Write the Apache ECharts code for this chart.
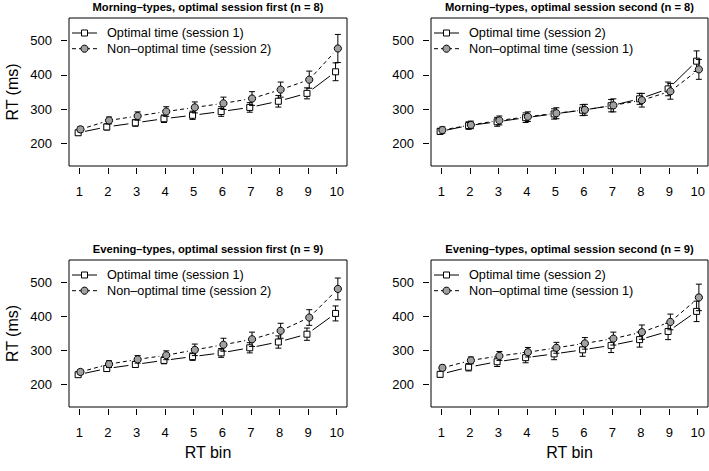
<!DOCTYPE html>
<html>
<head>
<meta charset="utf-8">
<script src="https://cdn.jsdelivr.net/npm/echarts@6/dist/echarts.min.js"></script>
<style>
html,body{margin:0;padding:0;background:#fff;}
#chart{width:709px;height:471px;}
</style>
</head>
<body>
<div id="chart"></div>
<script>
// ---- Data ----
const bins = [1, 2, 3, 4, 5, 6, 7, 8, 9, 10];
const yTicks = [200, 300, 400, 500];

const titles = [
  'Morning\u2013types, optimal session first (n = 8)',
  'Morning\u2013types, optimal session second (n = 8)',
  'Evening\u2013types, optimal session first (n = 9)',
  'Evening\u2013types, optimal session second (n = 9)'
];
const legendOptimal = ['Optimal time (session 1)', 'Optimal time (session 2)', 'Optimal time (session 1)', 'Optimal time (session 2)'];
const legendNonOptimal = ['Non\u2013optimal time (session 2)', 'Non\u2013optimal time (session 1)', 'Non\u2013optimal time (session 2)', 'Non\u2013optimal time (session 1)'];

// Morning-types, optimal session first
const optA    = [231, 248, 260, 272, 282, 293, 305, 323, 346, 409];
const optAErr = [7, 9, 10, 11, 12, 14, 14, 17, 16, 26];
const nonA    = [241, 267, 280, 293, 305, 317, 331, 357, 386, 477];
const nonAErr = [8, 10, 12, 14, 16, 18, 20, 22, 25, 41];
// Morning-types, optimal session second
const optB    = [235, 252, 263, 275, 286, 297, 310, 330, 359, 440];
const optBErr = [9, 11, 13, 14, 15, 16, 18, 16, 20, 30];
const nonB    = [239, 254, 267, 278, 288, 298, 311, 326, 352, 416];
const nonBErr = [9, 11, 13, 14, 16, 16, 19, 20, 23, 29];
// Evening-types, optimal session first
const optC    = [229, 247, 259, 271, 282, 293, 308, 325, 348, 409];
const optCErr = [6, 8, 9, 10, 11, 13, 15, 18, 18, 22];
const nonC    = [237, 260, 274, 286, 302, 317, 333, 358, 397, 481];
const nonCErr = [7, 10, 11, 13, 17, 19, 21, 22, 23, 32];
// Evening-types, optimal session second
const optD    = [230, 251, 267, 279, 290, 302, 315, 332, 356, 415];
const optDErr = [8, 11, 14, 15, 17, 19, 21, 22, 24, 30];
const nonD    = [249, 271, 284, 295, 308, 321, 335, 354, 384, 456];
const nonDErr = [8, 10, 13, 14, 16, 17, 19, 21, 23, 39];

const optSeries = [[optA, optAErr], [optB, optBErr], [optC, optCErr], [optD, optDErr]];
const nonSeries = [[nonA, nonAErr], [nonB, nonBErr], [nonC, nonCErr], [nonD, nonDErr]];

// ---- Layout / style ----
const FONT = 'Liberation Sans, Arial, Helvetica, sans-serif';
const grids = [
  {left: 69,  top: 18,  width: 278, height: 148},
  {left: 431, top: 18,  width: 277, height: 148},
  {left: 69,  top: 260, width: 278, height: 147},
  {left: 431, top: 260, width: 277, height: 147}
];
const GREY = '#a0a0a0';
const DODGE = 0.04;
const GAP = 7;

function buildData(vals, errs) {
  return bins.map((b, i) => [b, vals[i], errs[i],
    i < bins.length - 1 ? bins[i + 1] : null,
    i < bins.length - 1 ? vals[i + 1] : null]);
}

function makeRender(kind) {
  const dodge = kind === 'opt' ? -DODGE : DODGE;
  return function (params, api) {
    const x = api.value(0) + dodge;
    const y = api.value(1);
    const e = api.value(2);
    const p = api.coord([x, y]);
    const hi = api.coord([x, y + e]);
    const lo = api.coord([x, y - e]);
    const children = [];
    const nx = api.value(3);
    const ny = api.value(4);
    if (nx != null && !isNaN(nx)) {
      const q = api.coord([nx + dodge, ny]);
      const dx = q[0] - p[0], dy = q[1] - p[1];
      const L = Math.sqrt(dx * dx + dy * dy);
      if (L > 2 * GAP) {
        children.push({
          type: 'line',
          shape: {x1: p[0] + dx / L * GAP, y1: p[1] + dy / L * GAP, x2: q[0] - dx / L * GAP, y2: q[1] - dy / L * GAP},
          style: {stroke: '#000', lineWidth: 1, lineDash: kind === 'opt' ? null : [4, 3]}
        });
      }
    }
    const cap = 3;
    children.push({type: 'line', shape: {x1: p[0], y1: lo[1], x2: p[0], y2: hi[1]}, style: {stroke: '#000', lineWidth: 1}});
    children.push({type: 'line', shape: {x1: p[0] - cap, y1: hi[1], x2: p[0] + cap, y2: hi[1]}, style: {stroke: '#000', lineWidth: 1}});
    children.push({type: 'line', shape: {x1: p[0] - cap, y1: lo[1], x2: p[0] + cap, y2: lo[1]}, style: {stroke: '#000', lineWidth: 1}});
    if (kind === 'opt') {
      children.push({type: 'rect', shape: {x: p[0] - 3, y: p[1] - 3, width: 6, height: 6}, style: {fill: '#fff', stroke: '#000', lineWidth: 1}});
    } else {
      children.push({type: 'circle', shape: {cx: p[0], cy: p[1], r: 3.6}, style: {fill: GREY, stroke: '#000', lineWidth: 1}});
    }
    return {type: 'group', children: children};
  };
}

const xAxes = grids.map((g, i) => ({
  type: 'value', gridIndex: i, min: 0.64, max: 10.36, offset: 2,
  axisLine: {show: false},
  splitLine: {show: false},
  axisTick: {show: true, length: 6, customValues: bins, lineStyle: {color: '#000', width: 1}},
  axisLabel: {show: true, customValues: bins, margin: 17, fontSize: 13, color: '#000', fontFamily: FONT},
  name: i >= 2 ? 'RT bin' : '', nameLocation: 'middle', nameGap: 35,
  nameTextStyle: {fontSize: 16, color: '#000', fontFamily: FONT}
}));
const yAxes = grids.map((g, i) => ({
  type: 'value', gridIndex: i, min: 134, max: 566, offset: 2,
  axisLine: {show: false},
  splitLine: {show: false},
  axisTick: {show: true, length: 6, customValues: yTicks, lineStyle: {color: '#000', width: 1}},
  axisLabel: {show: true, customValues: yTicks, margin: 15, fontSize: 13, color: '#000', fontFamily: FONT},
  name: (i % 2 === 0) ? 'RT (ms)' : '', nameLocation: 'middle', nameGap: 47, nameRotate: 90,
  nameTextStyle: {fontSize: 16, color: '#000', fontFamily: FONT}
}));

const series = [];
grids.forEach((g, i) => {
  series.push({type: 'custom', name: legendOptimal[i], xAxisIndex: i, yAxisIndex: i,
    renderItem: makeRender('opt'), encode: {x: 0, y: 1}, data: buildData(optSeries[i][0], optSeries[i][1]), z: 3});
  series.push({type: 'custom', name: legendNonOptimal[i], xAxisIndex: i, yAxisIndex: i,
    renderItem: makeRender('non'), encode: {x: 0, y: 1}, data: buildData(nonSeries[i][0], nonSeries[i][1]), z: 4});
});

const titleOpts = grids.map((g, i) => ({
  text: titles[i], left: g.left + g.width / 2, top: g.top - 16.5, textAlign: 'center', padding: 0,
  textStyle: {fontSize: 11.2, fontWeight: 'bold', color: '#000', fontFamily: FONT}
}));

const graphics = [];
grids.forEach((g, i) => {
  const y1 = 15, y2 = 30.7, sx = 15.5;
  graphics.push({
    type: 'group', x: g.left, y: g.top, z: 10,
    children: [
      {type: 'line', shape: {x1: 3, y1: y1, x2: 28, y2: y1}, style: {stroke: '#000', lineWidth: 1}},
      {type: 'rect', shape: {x: sx - 3, y: y1 - 3, width: 6, height: 6}, style: {fill: '#fff', stroke: '#000', lineWidth: 1}},
      {type: 'text', x: 38, y: y1, style: {text: legendOptimal[i], fontSize: 12.7, fontFamily: FONT, fill: '#000', verticalAlign: 'middle', align: 'left'}},
      {type: 'line', shape: {x1: 3, y1: y2, x2: 28, y2: y2}, style: {stroke: '#000', lineWidth: 1, lineDash: [4, 3]}},
      {type: 'circle', shape: {cx: sx, cy: y2, r: 3.6}, style: {fill: GREY, stroke: '#000', lineWidth: 1}},
      {type: 'text', x: 38, y: y2, style: {text: legendNonOptimal[i], fontSize: 12.7, fontFamily: FONT, fill: '#000', verticalAlign: 'middle', align: 'left'}}
    ]
  });
});

const chart = echarts.init(document.getElementById('chart'), null, {renderer: 'svg'});
chart.setOption({
  backgroundColor: '#fff',
  animation: false,
  title: titleOpts,
  grid: grids.map(g => Object.assign({show: true, borderColor: '#000', borderWidth: 1, backgroundColor: 'transparent', containLabel: false}, g)),
  xAxis: xAxes,
  yAxis: yAxes,
  series: series,
  graphic: graphics
});
</script>
</body>
</html>
